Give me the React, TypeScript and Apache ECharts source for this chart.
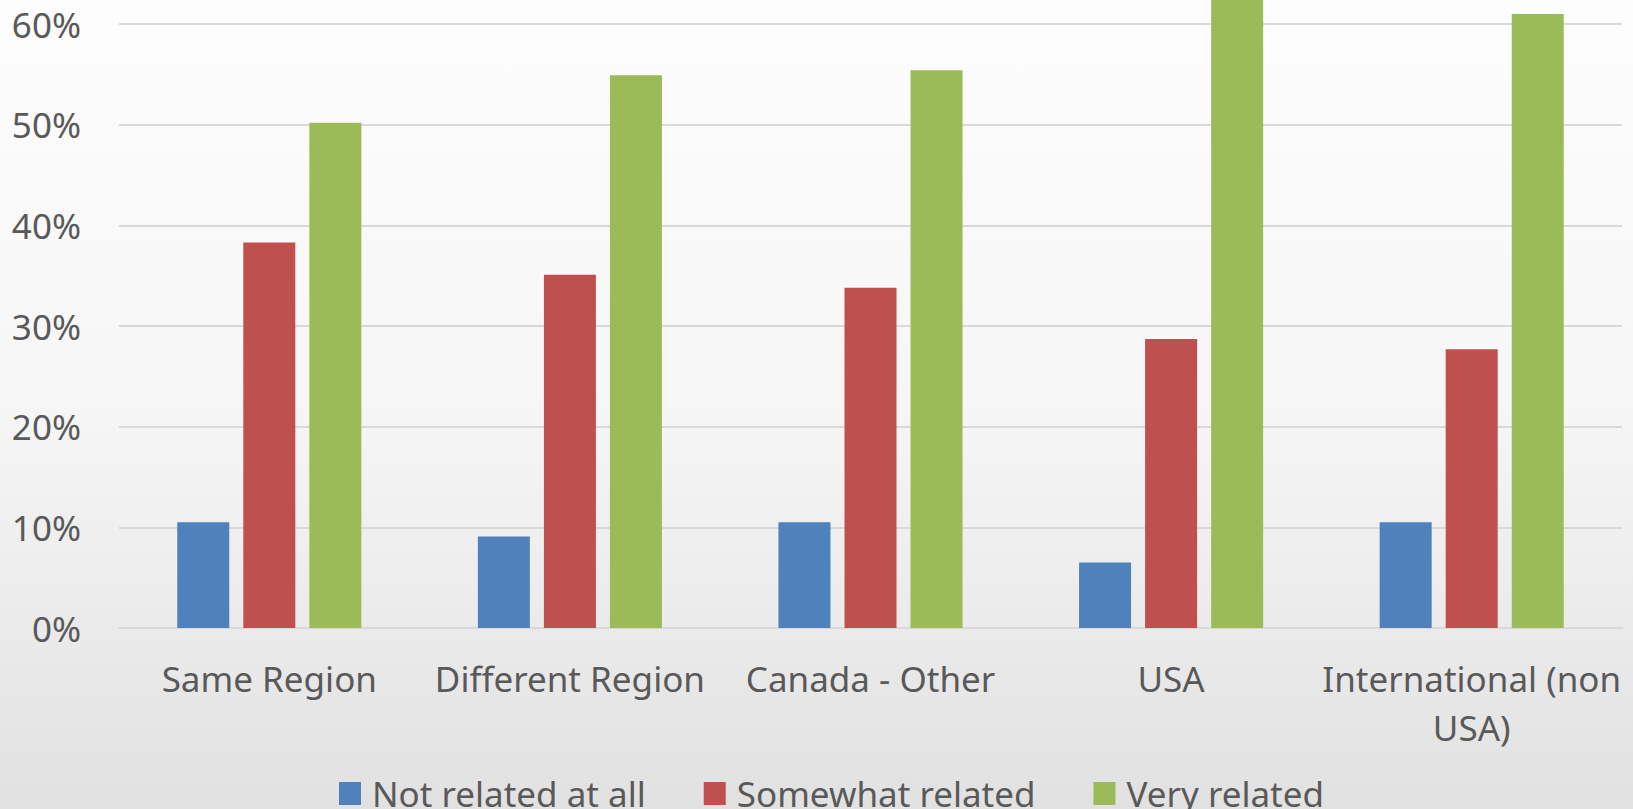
import React, { useEffect, useRef } from "react";
import * as echarts from "echarts";

const categories = ["Same Region", "Different Region", "Canada - Other", "USA", "International (non USA)"];
const seriesNames = ["Not related at all", "Somewhat related", "Very related"];
const notRelated = [10.5, 9.1, 10.5, 6.5, 10.5];
const somewhatRelated = [38.3, 35.1, 33.8, 28.7, 27.7];
const veryRelated = [50.2, 54.9, 55.4, 64.0, 61.0];
const colors = ["#4f81bd", "#c0504d", "#9bbb59"];

const FONT = "'Noto Sans', 'Open Sans', sans-serif";
const TEXT = "#595959";

export default function App() {
  const ref = useRef<HTMLDivElement>(null);
  useEffect(() => {
    if (!ref.current) return;
    const chart = echarts.init(ref.current, null, { renderer: "svg" });
    const values = [notRelated, somewhatRelated, veryRelated];
    chart.setOption({
      animation: false,
      backgroundColor: new echarts.graphic.LinearGradient(0, 0, 0, 1, [
        { offset: 0, color: "#fdfdfd" },
        { offset: 0.5, color: "#f6f6f6" },
        { offset: 1, color: "#e1e1e1" },
      ]),
      textStyle: { fontFamily: FONT },
      grid: { left: 119, right: 11, top: 24, bottom: 181, containLabel: false },
      legend: {
        left: 334,
        top: 771,
        itemWidth: 22,
        itemHeight: 23,
        itemGap: 58,
        icon: "rect",
        textStyle: { fontFamily: FONT, fontSize: 35, color: TEXT, padding: [0, 0, 0, 6] },
        data: seriesNames,
      },
      xAxis: {
        type: "category",
        data: categories,
        axisLine: { lineStyle: { color: "#d9d9d9", width: 2 } },
        axisTick: { show: false },
        axisLabel: {
          color: TEXT,
          fontFamily: FONT,
          fontSize: 35,
          lineHeight: 49,
          margin: 26,
          interval: 0,
          formatter: (v: string) => {
            if (v.length > 20) {
              const i = v.lastIndexOf(" ");
              return v.slice(0, i) + "\n" + v.slice(i + 1);
            }
            return v;
          },
        },
      },
      yAxis: {
        type: "value",
        min: 0,
        max: 60,
        interval: 10,
        axisLine: { show: false },
        axisTick: { show: false },
        splitLine: { lineStyle: { color: "#d9d9d9", width: 2 } },
        axisLabel: {
          color: TEXT,
          fontFamily: FONT,
          fontSize: 35,
          margin: 38,
          formatter: (v: number) => v + "%",
        },
      },
      series: seriesNames.map((name, i) => ({
        name,
        type: "bar",
        data: values[i],
        barWidth: 52,
        barGap: "27%",
        clip: false,
        itemStyle: { color: colors[i] },
      })),
    });
    return () => chart.dispose();
  }, []);
  return <div ref={ref} style={{ position: "fixed", left: 0, top: 0, width: 1633, height: 809 }} />;
}
